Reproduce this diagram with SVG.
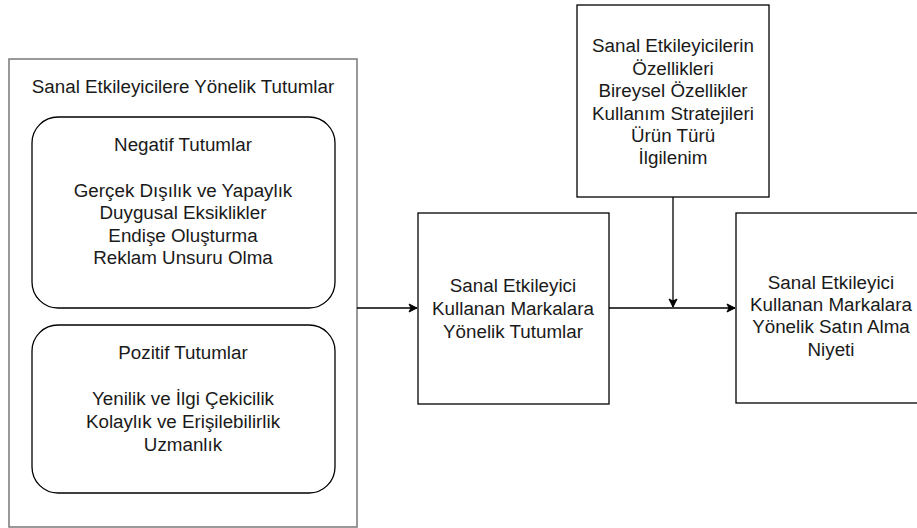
<svg xmlns="http://www.w3.org/2000/svg" width="917" height="528" viewBox="0 0 917 528">
<defs>
<marker id="arr" markerWidth="10" markerHeight="10" refX="9" refY="5" orient="auto" markerUnits="userSpaceOnUse">
<path d="M1,1 L9,5 L1,9 L3,5 Z" fill="#000" stroke="#000" stroke-width="1"/>
</marker>
<style>
text{font-family:"Liberation Sans",Arial,Helvetica,sans-serif;font-size:18.8px;fill:#1a1a1a;text-anchor:middle;dominant-baseline:central}
.box{fill:#fff;stroke:#000;stroke-width:1.3}
.frame{fill:#fff;stroke:#808080;stroke-width:1.6}
.edge{fill:none;stroke:#000;stroke-width:1.3}
</style>
</defs>
<rect width="917" height="528" fill="#fff"/>
<g id="container">
<rect class="frame" x="9" y="59" width="348" height="468"/>
<text x="183" y="86">Sanal Etkileyicilere Yönelik Tutumlar</text>
</g>
<g id="negatif">
<rect class="box" x="32" y="117" width="303" height="191" rx="26" ry="26"/>
<text x="183" y="144">Negatif Tutumlar</text>
<text x="183" y="190">Gerçek Dışılık ve Yapaylık</text>
<text x="183" y="212.5">Duygusal Eksiklikler</text>
<text x="183" y="235">Endişe Oluşturma</text>
<text x="183" y="257.5">Reklam Unsuru Olma</text>
</g>
<g id="pozitif">
<rect class="box" x="32" y="325" width="303" height="168" rx="26" ry="26"/>
<text x="183" y="352">Pozitif Tutumlar</text>
<text x="183" y="398">Yenilik ve İlgi Çekicilik</text>
<text x="183" y="421">Kolaylık ve Erişilebilirlik</text>
<text x="183" y="444">Uzmanlık</text>
</g>
<g id="tutumlar">
<rect class="box" x="418" y="213" width="191" height="191"/>
<text x="513" y="285">Sanal Etkileyici</text>
<text x="513" y="308">Kullanan Markalara</text>
<text x="513" y="331">Yönelik Tutumlar</text>
</g>
<g id="ozellikler">
<rect class="box" x="577" y="5" width="192" height="192"/>
<text x="673" y="45">Sanal Etkileyicilerin</text>
<text x="673" y="68">Özellikleri</text>
<text x="673" y="90">Bireysel Özellikler</text>
<text x="673" y="113">Kullanım Stratejileri</text>
<text x="673" y="135">Ürün Türü</text>
<text x="673" y="157">İlgilenim</text>
</g>
<g id="niyet">
<rect class="box" x="736" y="213" width="191" height="190"/>
<text x="831" y="282">Sanal Etkileyici</text>
<text x="831" y="304">Kullanan Markalara</text>
<text x="831" y="326">Yönelik Satın Alma</text>
<text x="831" y="349">Niyeti</text>
</g>
<g id="connectors">
<line class="edge" x1="357" y1="308" x2="417" y2="308" marker-end="url(#arr)"/>
<line class="edge" x1="609" y1="308" x2="735" y2="308" marker-end="url(#arr)"/>
<line class="edge" x1="673" y1="197" x2="673" y2="307" marker-end="url(#arr)"/>
</g>
</svg>
